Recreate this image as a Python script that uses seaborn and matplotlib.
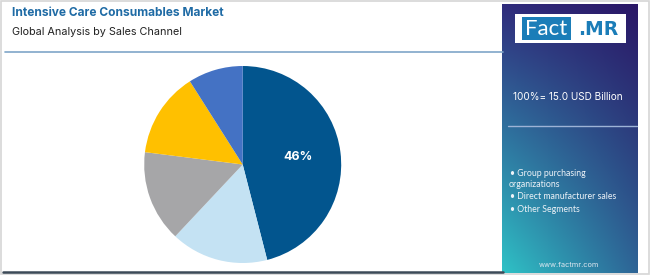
import numpy as np
import matplotlib
matplotlib.use("Agg")
import matplotlib.pyplot as plt
import seaborn as sns
from matplotlib.patches import Rectangle
from matplotlib.lines import Line2D

# ---- data ----
segments = ["Group purchasing organizations", "Direct manufacturer sales",
            "Other Segments", "Segment 4", "Segment 5"]
shares = [46, 16, 15, 14, 9]
colors = ["#02558E", "#C4E2F3", "#A6A6A8", "#FFC000", "#4472C4"]
legend_lines = ["\u2022 Group purchasing", "organizations",
                "\u2022 Direct manufacturer sales", "\u2022 Other Segments"]
title = "Intensive Care Consumables Market"
subtitle = "Global Analysis by Sales Channel"
total_text = "100%= 15.0 USD Billion"

sns.set_theme(style="white")
plt.rcParams['font.family'] = ['Lato', 'DejaVu Sans']

W, H = 650, 275
fig = plt.figure(figsize=(W / 100, H / 100), dpi=100)
fig.patch.set_facecolor("white")

def fx(x): return x / W
def fy(y): return 1 - y / H

# outer border
fig.add_artist(Rectangle((0.001, 0.002), 0.997, 0.995, transform=fig.transFigure,
                         fill=False, edgecolor="#D6D6D6", linewidth=1.2))

# titles
fig.text(fx(12), fy(13), title, fontsize=8.6, fontweight="bold", color="#1F6BA5",
         va="center", ha="left", family=["Inter", "DejaVu Sans"])
fig.text(fx(12), fy(32), subtitle, fontsize=7.8, color="#222222",
         va="center", ha="left", family=["Inter", "DejaVu Sans"])
# header line
fig.add_artist(Line2D([fx(5), fx(503)], [fy(52), fy(52)], transform=fig.transFigure,
                      color="#7FA6C8", linewidth=1.2))
# bottom line
fig.add_artist(Line2D([fx(3), fx(503)], [fy(272), fy(272)], transform=fig.transFigure,
                      color="#3C4A58", linewidth=1.8))

# pie
cx, cy, r = 242.7, 164.5, 98.5
ax = fig.add_axes([fx(cx - r), fy(cy + r), 2 * r / W, 2 * r / H])
wedges, texts, autotexts = ax.pie(
    shares, colors=colors, startangle=90, counterclock=False, radius=1,
    autopct=lambda p: f"{p:.0f}%" if p > 20 else "", pctdistance=0.57,
    wedgeprops=dict(linewidth=0))
for t in autotexts:
    t.set_color("white")
    t.set_fontweight("bold")
    t.set_fontsize(9)
    t.set_family(["Inter", "DejaVu Sans"])
ax.set_xlim(-1, 1)
ax.set_ylim(-1, 1)
ax.set_aspect("auto")
ax.axis("off")

# right gradient panel
px0, px1, py0, py1 = 502, 637, 4, 273
pax = fig.add_axes([fx(px0), fy(py1), (px1 - px0) / W, (py1 - py0) / H])
def hex2rgb(h):
    h = h.lstrip("#")
    return np.array([int(h[i:i + 2], 16) / 255 for i in (0, 2, 4)])
TL, TR = hex2rgb("#302C7C"), hex2rgb("#2A1766")
BL, BR = hex2rgb("#2EC2C6"), hex2rgb("#2E6496")
ny, nx = 200, 100
u = np.linspace(0, 1, nx)[None, :, None]
v = np.linspace(0, 1, ny)[:, None, None]
img = (1 - v) * ((1 - u) * TL + u * TR) + v * ((1 - u) * BL + u * BR)
pax.imshow(img, aspect="auto", extent=[0, 1, 0, 1], origin="upper")
pax.set_xlim(0, 1)
pax.set_ylim(0, 1)
pax.axis("off")

# logo
fig.add_artist(Rectangle((fx(515), fy(43)), (626 - 515) / W, (43 - 14) / H,
                         transform=fig.transFigure, facecolor="white", edgecolor="none"))
fig.add_artist(Rectangle((fx(522), fy(40)), (571 - 522) / W, (40 - 17) / H,
                         transform=fig.transFigure, facecolor="#1B7DB8", edgecolor="none"))
fig.text(fx(546.5), fy(29), "Fact", fontsize=16, color="white", ha="center",
         va="center", family=["Lato", "DejaVu Sans"])
fig.text(fx(598), fy(29.5), ".MR", fontsize=13.5, color="#1B7DB8", fontweight="bold",
         ha="center", va="center", family=["DejaVu Sans"])

# panel texts
fig.text(fx(568), fy(97), total_text, fontsize=7.2, color="white", ha="center",
         va="center", family=["Inter", "DejaVu Sans"])
fig.add_artist(Line2D([fx(508), fx(637)], [fy(126), fy(126)], transform=fig.transFigure,
                      color="#9DB3D6", linewidth=1.0))
ys = [174, 184.5, 196.5, 209]
xs = [510, 509, 510, 510]
for s, x, y in zip(legend_lines, xs, ys):
    fig.text(fx(x), fy(y), s, fontsize=6.3, color="#EEF3F8", ha="left", va="center",
             family=["Lato", "DejaVu Sans"])
fig.text(fx(569), fy(265), "www.factmr.com", fontsize=5.3, color="#DDE7F0",
         ha="center", va="center", family=["Inter", "DejaVu Sans"])

fig.savefig("out.png", dpi=100, facecolor="white")
